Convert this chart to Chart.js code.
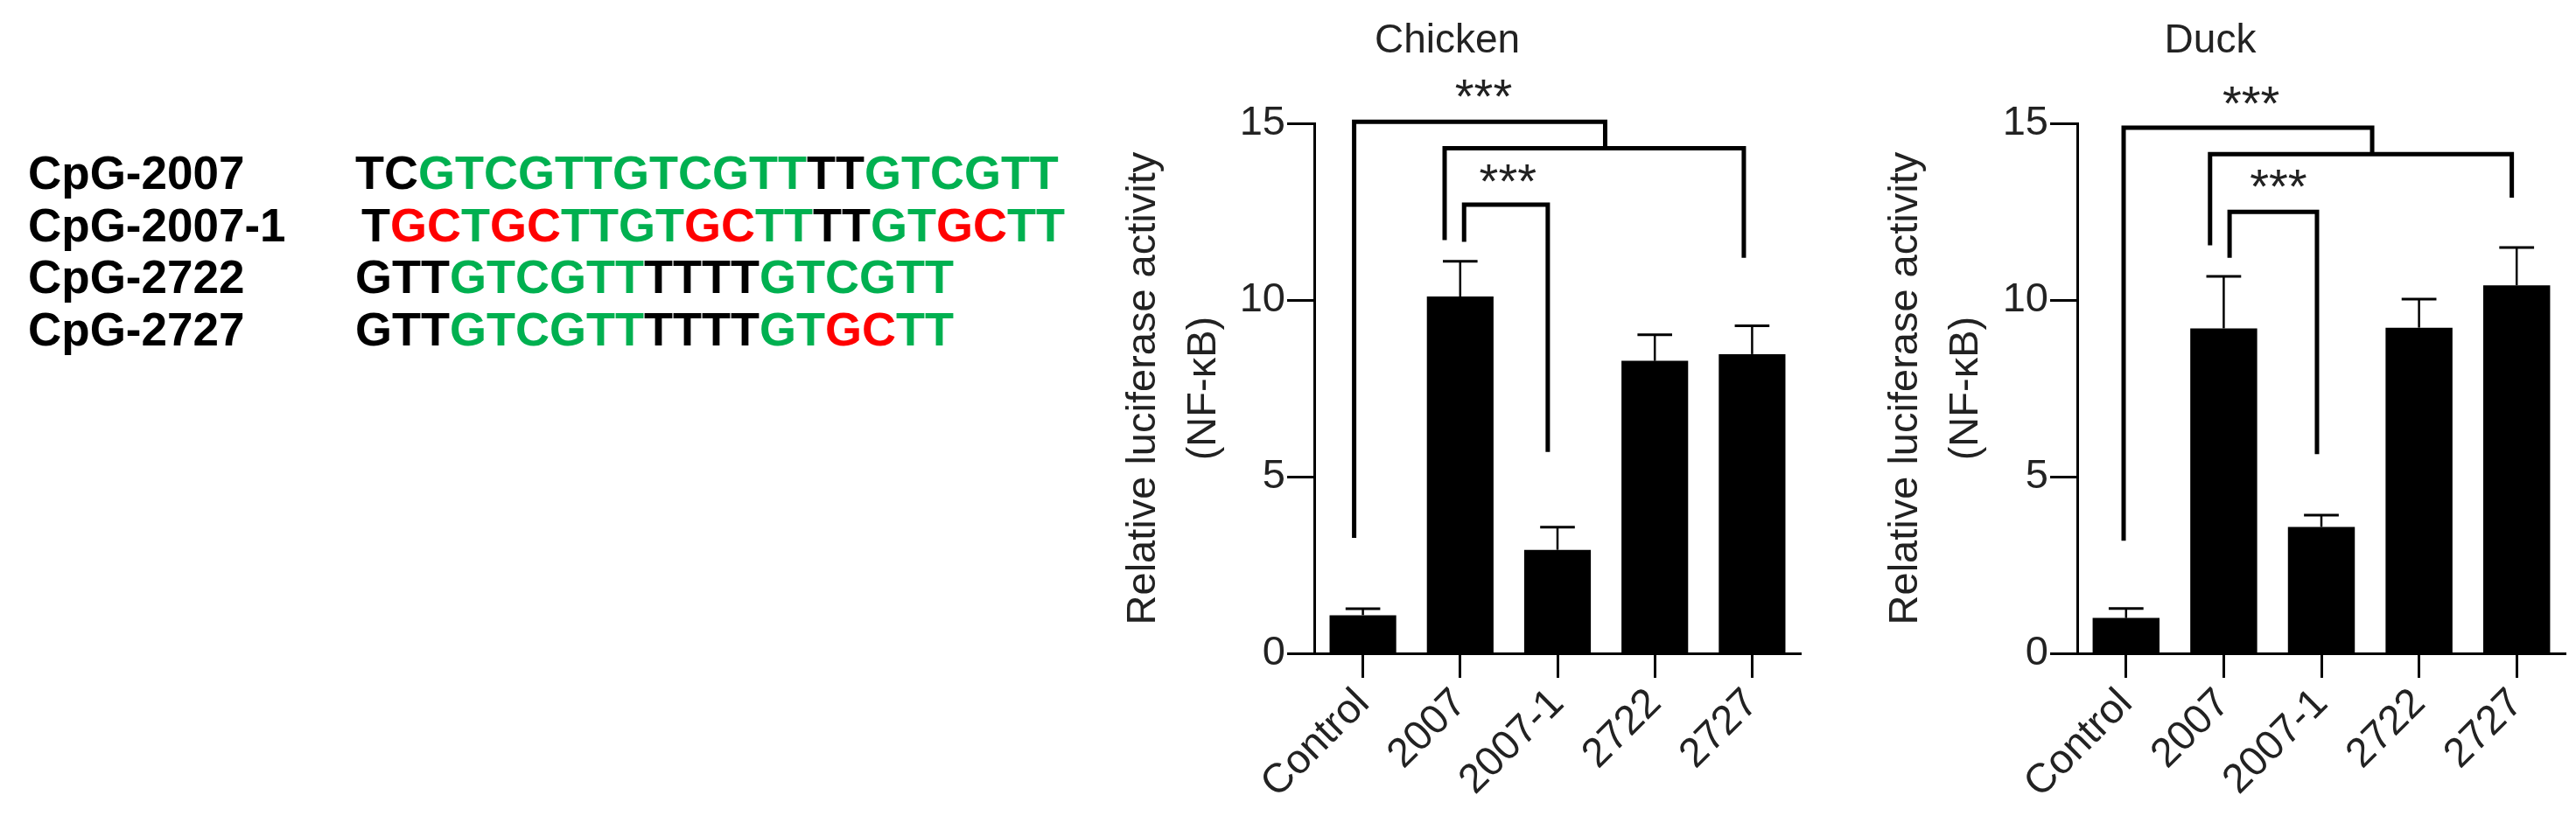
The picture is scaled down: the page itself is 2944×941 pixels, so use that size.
<!DOCTYPE html>
<html><head><meta charset="utf-8">
<script src="https://cdn.jsdelivr.net/npm/chart.js@4.4.1/dist/chart.umd.min.js"></script>
<style>
html,body{margin:0;padding:0;background:#fff;width:2944px;height:941px;overflow:hidden;}
#page{position:relative;width:2944px;height:941px;overflow:hidden;background:#fff;}
.txt{position:absolute;font-family:'Liberation Sans',Arial,sans-serif;font-weight:bold;white-space:pre;line-height:1;color:#000;}
.box{position:absolute;top:0;}
canvas{display:block;}
</style></head><body><div id="page">
<div id="seq"></div>
<div class="box" style="left:1250px;width:976px;height:941px"><canvas id="c1" width="976" height="941"></canvas></div>
<div class="box" style="left:2120px;width:982px;height:941px"><canvas id="c2" width="982" height="941"></canvas></div>
</div>
<script>
// ---- data ----
const categories = ['Control', '2007', '2007-1', '2722', '2727'];
const chickenMeans = [1.08, 10.1, 2.93, 8.28, 8.47];
const chickenErr = [0.18, 1.0, 0.64, 0.74, 0.8];
const duckMeans = [1.0, 9.2, 3.58, 9.22, 10.42];
const duckErr = [0.27, 1.47, 0.33, 0.81, 1.07];
const yTicks = [0, 5, 10, 15];
const yTitle = ['Relative luciferase activity', '(NF-\u03BAB)'];
// significance brackets: category-index positions and values
const chickenBrackets = [
  {x1: -0.09, x2: 2.49, y: 15.05, y1: 3.27, y2: 14.3},
  {x1: 0.84, x2: 3.915, y: 14.3, y1: 11.7, y2: 11.2},
  {x1: 1.04, x2: 1.90, y: 12.7, y1: 11.65, y2: 5.7}
];
const duckBrackets = [
  {x1: -0.025, x2: 2.52, y: 14.88, y1: 3.19, y2: 14.13},
  {x1: 0.86, x2: 3.95, y: 14.13, y1: 11.55, y2: 12.9},
  {x1: 1.06, x2: 1.955, y: 12.5, y1: 11.2, y2: 5.64}
];
const chickenStars = [{x: 1.24, y: 16.0}, {x: 1.49, y: 13.6}];
const duckStars = [{x: 1.28, y: 15.8}, {x: 1.56, y: 13.45}];
// sequences: k = plain, g = CpG motif, r = GpC substitution
const seqLabels = ['CpG-2007', 'CpG-2007-1', 'CpG-2722', 'CpG-2727'];
const seqSegments = [
  [['TC','k'],['GTCGTTGTCGTT','g'],['TT','k'],['GTCGTT','g']],
  [['T','k'],['GC','r'],['T','g'],['GC','r'],['TTGT','g'],['GC','r'],['TT','g'],['TT','k'],['GT','g'],['GC','r'],['TT','g']],
  [['GTT','k'],['GTCGTT','g'],['TTTT','k'],['GTCGTT','g']],
  [['GTT','k'],['GTCGTT','g'],['TTTT','k'],['GT','g'],['GC','r'],['TT','g']]
];

// ---- sequence text block ----
const segColor = {k: '#000000', g: '#00B050', r: '#FF0000'};
const rowBase = [216, 276, 335, 395];
const seqX = [406, 413, 406, 406];
const seqDiv = document.getElementById('seq');
seqLabels.forEach((lab, i) => {
  const d = document.createElement('div');
  d.className = 'txt';
  d.style.left = '32px';
  d.style.fontSize = '53px';
  d.style.top = (rowBase[i] - 0.8465 * 53) + 'px';
  d.textContent = lab;
  seqDiv.appendChild(d);
  const s = document.createElement('div');
  s.className = 'txt';
  s.style.left = seqX[i] + 'px';
  s.style.fontSize = '54px';
  s.style.top = (rowBase[i] - 0.8465 * 54) + 'px';
  seqSegments[i].forEach(([t, c]) => {
    const sp = document.createElement('span');
    sp.style.color = segColor[c];
    sp.textContent = t;
    s.appendChild(sp);
  });
  seqDiv.appendChild(s);
});

// ---- charts ----
const FONT = "'Liberation Sans', Arial, Helvetica, sans-serif";
Chart.defaults.font.family = FONT;

function makeAnnot(means, err, brackets, stars) {
  return {
    id: 'annot',
    afterDatasetsDraw(chart) {
      const ctx = chart.ctx, xs = chart.scales.x, ys = chart.scales.y;
      const meta = chart.getDatasetMeta(0);
      ctx.save();
      ctx.strokeStyle = '#000';
      ctx.lineCap = 'butt';
      err.forEach((e, i) => {
        const bar = meta.data[i];
        const x = bar.x;
        const yb = ys.getPixelForValue(means[i]);
        const yt = ys.getPixelForValue(means[i] + e);
        const half = bar.width * 0.26;
        ctx.lineWidth = 2.5;
        ctx.beginPath(); ctx.moveTo(x, yb); ctx.lineTo(x, yt); ctx.stroke();
        ctx.lineWidth = 3;
        ctx.beginPath(); ctx.moveTo(x - half, yt); ctx.lineTo(x + half, yt); ctx.stroke();
      });
      ctx.lineWidth = 5;
      ctx.lineJoin = 'miter';
      brackets.forEach(b => {
        const px1 = xs.getPixelForValue(b.x1), px2 = xs.getPixelForValue(b.x2);
        const py = ys.getPixelForValue(b.y);
        ctx.beginPath();
        ctx.moveTo(px1, ys.getPixelForValue(b.y1));
        ctx.lineTo(px1, py);
        ctx.lineTo(px2, py);
        ctx.lineTo(px2, ys.getPixelForValue(b.y2));
        ctx.stroke();
      });
      ctx.fillStyle = '#222';
      ctx.font = '56px ' + FONT;
      ctx.textAlign = 'center';
      ctx.textBaseline = 'alphabetic';
      stars.forEach(s => {
        const m = ctx.measureText('***');
        const cx = xs.getPixelForValue(s.x), cy = ys.getPixelForValue(s.y);
        ctx.fillText('***', cx, cy + (m.actualBoundingBoxAscent - m.actualBoundingBoxDescent) / 2);
      });
      ctx.restore();
    }
  };
}

function makeChart(id, title, means, err, brackets, stars, yWidth, yTitlePad, padRight) {
  return new Chart(document.getElementById(id), {
    type: 'bar',
    data: {
      labels: categories,
      datasets: [{data: means, backgroundColor: '#000', borderWidth: 0, barPercentage: 0.685, categoryPercentage: 1}]
    },
    plugins: [makeAnnot(means, err, brackets, stars)],
    options: {
      responsive: false, animation: false, devicePixelRatio: 1,
      layout: {padding: {left: 0, right: padRight, top: 0, bottom: 0}},
      plugins: {
        legend: {display: false},
        tooltip: {enabled: false},
        title: {display: true, text: title, color: '#222', font: {size: 46, weight: 'normal', lineHeight: 1.2}, padding: {top: 20, bottom: 66}}
      },
      scales: {
        x: {
          offset: true,
          grid: {display: true, drawOnChartArea: false, drawTicks: true, tickLength: 28, tickWidth: 3, tickColor: '#000', offset: false},
          border: {display: true, color: '#000', width: 3},
          ticks: {color: '#222', font: {size: 47}, minRotation: 45, maxRotation: 45, padding: 2, autoSkip: false},
          afterFit(s) { s.height = 194; }
        },
        y: {
          min: 0, max: 15,
          afterBuildTicks(s) { s.ticks = yTicks.map(v => ({value: v})); },
          grid: {display: true, drawOnChartArea: false, drawTicks: true, tickLength: 31, tickWidth: 3, tickColor: '#000'},
          border: {display: true, color: '#000', width: 3},
          ticks: {color: '#222', font: {size: 47}, padding: 2},
          title: {display: true, text: yTitle, color: '#222', font: {size: 47, lineHeight: 69 / 47}, padding: {top: yTitlePad, bottom: 0}},
          afterFit(s) { s.width = yWidth; }
        }
      }
    }
  });
}

makeChart('c1', 'Chicken', chickenMeans, chickenErr, chickenBrackets, chickenStars, 252, 22.5, 168);
makeChart('c2', 'Duck', duckMeans, duckErr, duckBrackets, duckStars, 254, 23.5, 170);
</script>
</body></html>
